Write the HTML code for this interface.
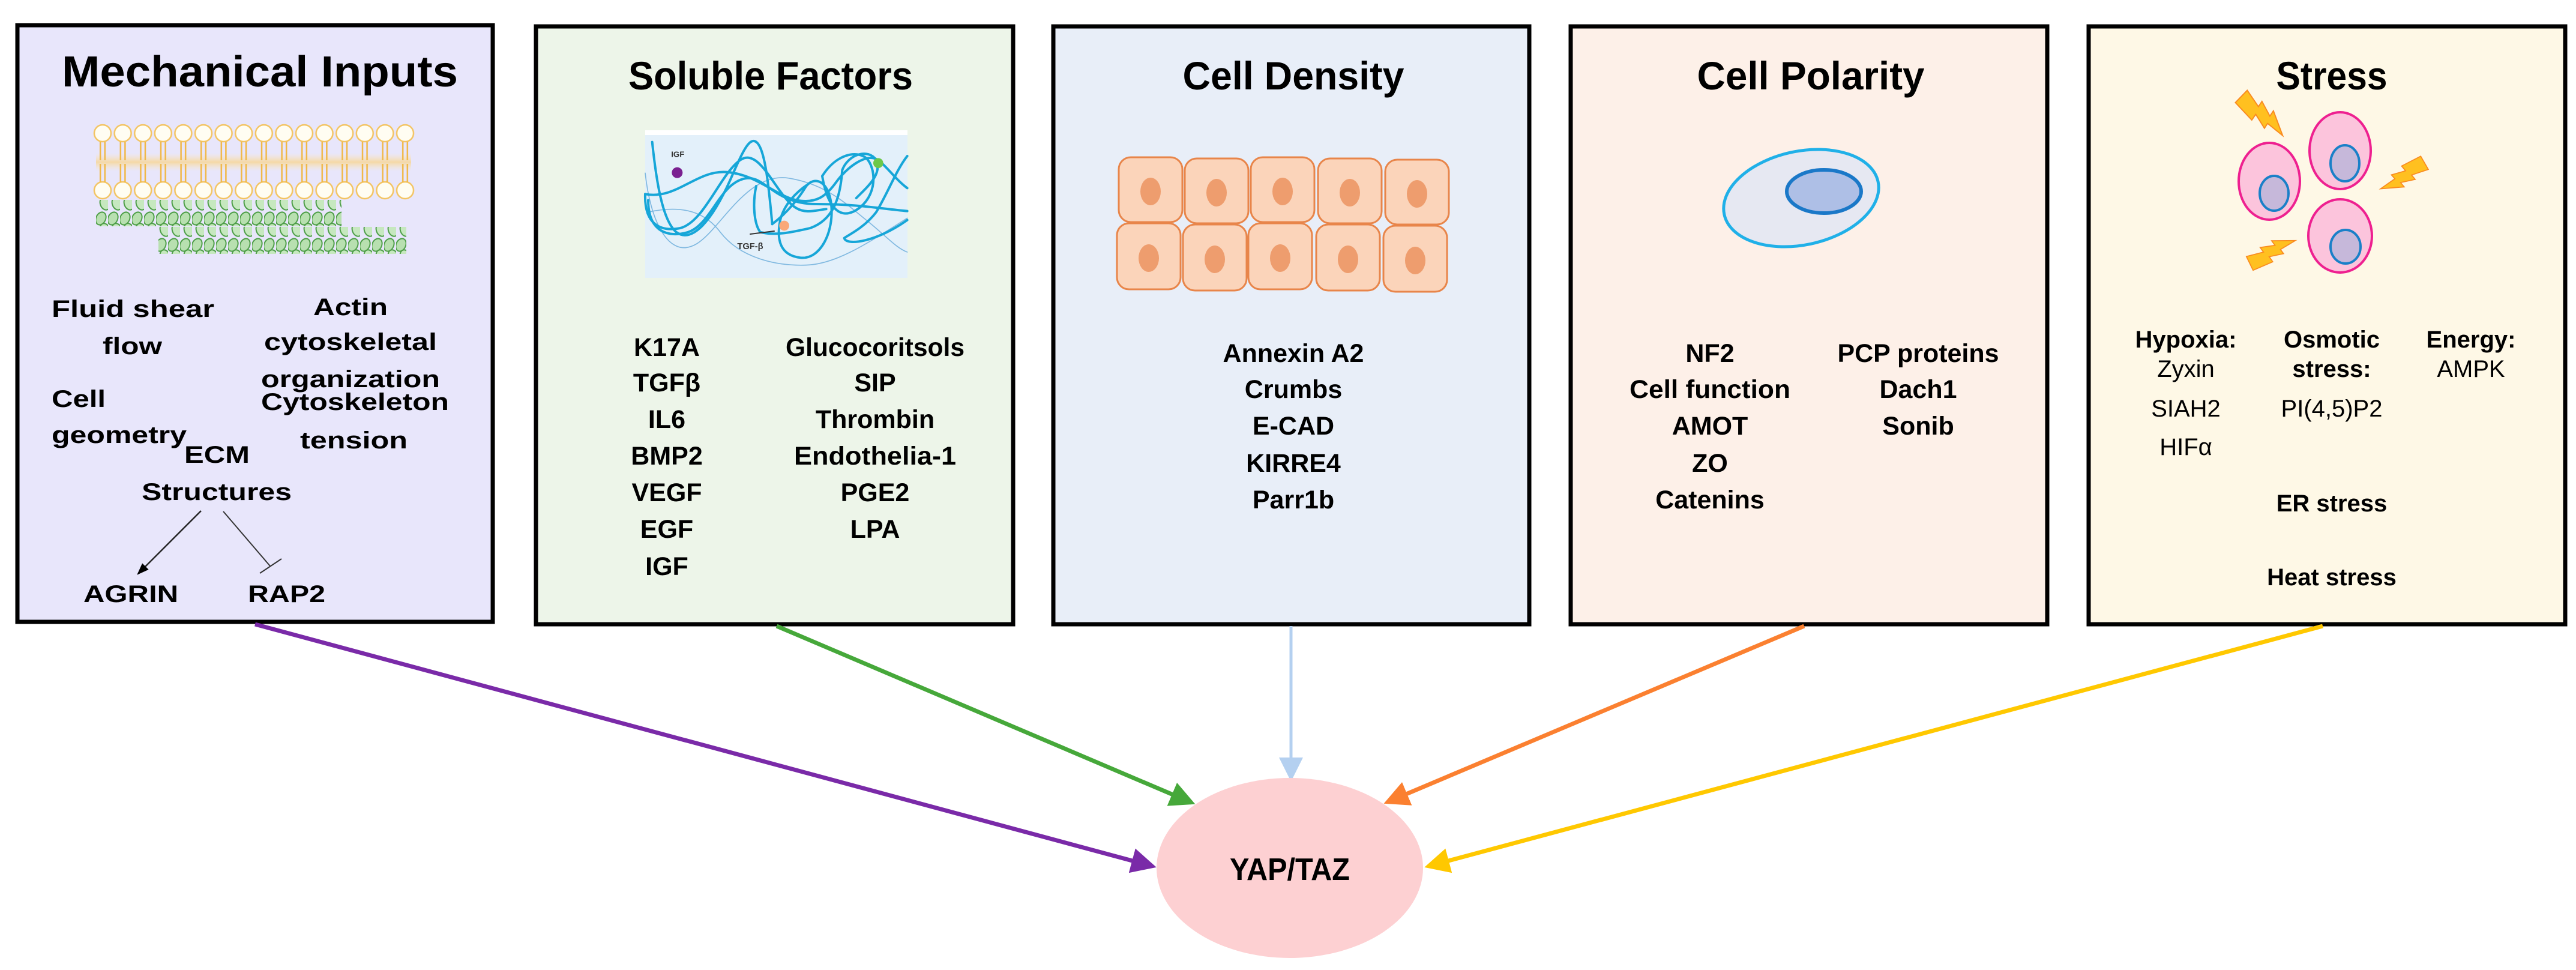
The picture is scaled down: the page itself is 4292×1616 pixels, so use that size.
<!DOCTYPE html>
<html><head><meta charset="utf-8"><style>
html,body{margin:0;padding:0;background:#fff;}
svg{display:block;}
text{font-family:"Liberation Sans",Arial,sans-serif;}
</style></head><body>
<svg width="4292" height="1616" viewBox="0 0 4292 1616" xmlns="http://www.w3.org/2000/svg">
<defs>
<pattern id="lip" patternUnits="userSpaceOnUse" x="154.2" y="205" width="33.6" height="130">
 <circle cx="16.8" cy="17" r="14" fill="#fffdf2" stroke="#f3c463" stroke-width="2.5"/>
 <circle cx="16.8" cy="112" r="14" fill="#fffdf2" stroke="#f3c463" stroke-width="2.5"/>
 <path d="M13 31 V62 M20.6 31 V62 M13 68 V98 M20.6 68 V98" stroke="#f0b848" stroke-width="2.5" fill="none"/>
</pattern>
<pattern id="act" patternUnits="userSpaceOnUse" x="0" y="0" width="20" height="44">
 <ellipse cx="8" cy="12" rx="8" ry="11" fill="#b8e0b0" stroke="#4e9e48" stroke-width="2" transform="rotate(25 8 12)"/>
 <ellipse cx="15" cy="31" rx="8" ry="11" fill="#c6e8bf" stroke="#4e9e48" stroke-width="2" transform="rotate(-20 15 31)"/>
</pattern>
<linearGradient id="band" x1="0" y1="0" x2="0" y2="1">
 <stop offset="0" stop-color="#fde8b8" stop-opacity="0"/>
 <stop offset="0.5" stop-color="#f8d590" stop-opacity="0.8"/>
 <stop offset="1" stop-color="#fde8b8" stop-opacity="0"/>
</linearGradient>
<polygon id="bolt" points="-16,0 14,0 7,34 18,32 9,60 20,58 0,100 -3,66 -13,68 -6,40 -18,42" fill="#ffc020" stroke="#f98a20" stroke-width="2"/>
<marker id="mp" markerWidth="6" markerHeight="6" refX="5" refY="3" orient="auto" markerUnits="strokeWidth"><path d="M0,0 L6,3 L0,6 z" fill="#7a2aa8"/></marker>
<marker id="mg" markerWidth="6" markerHeight="6" refX="5" refY="3" orient="auto" markerUnits="strokeWidth"><path d="M0,0 L6,3 L0,6 z" fill="#46a83a"/></marker>
<marker id="mb" markerWidth="8" markerHeight="8" refX="7" refY="4" orient="auto" markerUnits="strokeWidth"><path d="M0,0 L8,4 L0,8 z" fill="#b4d0f0"/></marker>
<marker id="mo" markerWidth="6" markerHeight="6" refX="5" refY="3" orient="auto" markerUnits="strokeWidth"><path d="M0,0 L6,3 L0,6 z" fill="#fb8030"/></marker>
<marker id="my" markerWidth="6" markerHeight="6" refX="5" refY="3" orient="auto" markerUnits="strokeWidth"><path d="M0,0 L6,3 L0,6 z" fill="#ffc800"/></marker>
<marker id="mk" markerWidth="8" markerHeight="8" refX="7" refY="4" orient="auto" markerUnits="strokeWidth"><path d="M0,1 L8,4 L0,7 z" fill="#000"/></marker>
</defs>

<!-- boxes -->
<g stroke="#000" stroke-width="7">
<rect x="29" y="42" width="792" height="994" fill="#e8e6fb"/>
<rect x="893" y="44" width="795" height="996" fill="#edf5e9"/>
<rect x="1755" y="44" width="793" height="996" fill="#e8eef8"/>
<rect x="2617" y="44" width="794" height="996" fill="#fdf0e8"/>
<rect x="3480" y="44" width="794" height="996" fill="#fef8e6"/>
</g>

<!-- titles -->
<g font-weight="bold" fill="#000" text-anchor="middle">
<text x="433" y="144" font-size="72" textLength="660" lengthAdjust="spacingAndGlyphs">Mechanical Inputs</text>
<text x="1284" y="149" font-size="66" textLength="474" lengthAdjust="spacingAndGlyphs">Soluble Factors</text>
<text x="2155" y="149" font-size="66" textLength="369" lengthAdjust="spacingAndGlyphs">Cell Density</text>
<text x="3017" y="149" font-size="66" textLength="379" lengthAdjust="spacingAndGlyphs">Cell Polarity</text>
<text x="3885" y="149" font-size="66" textLength="185" lengthAdjust="spacingAndGlyphs">Stress</text>
</g>

<!-- membrane -->
<rect x="160" y="255" width="525" height="30" fill="url(#band)"/>
<rect x="154" y="205" width="538" height="130" fill="url(#lip)"/>
<rect x="160" y="333" width="409" height="44" fill="url(#act)"/>
<rect x="264" y="378" width="413" height="45" fill="url(#act)"/>

<!-- mechanical text -->
<g font-weight="bold" font-size="40" fill="#000">
<text x="86" y="528" textLength="271" lengthAdjust="spacingAndGlyphs">Fluid shear</text>
<text x="171" y="590" textLength="99" lengthAdjust="spacingAndGlyphs">flow</text>
<text x="522" y="525" textLength="124" lengthAdjust="spacingAndGlyphs">Actin</text>
<text x="440" y="583" textLength="288" lengthAdjust="spacingAndGlyphs">cytoskeletal</text>
<text x="435" y="645" textLength="298" lengthAdjust="spacingAndGlyphs">organization</text>
<text x="435" y="683" textLength="313" lengthAdjust="spacingAndGlyphs">Cytoskeleton</text>
<text x="500" y="747" textLength="179" lengthAdjust="spacingAndGlyphs">tension</text>
<text x="86" y="678" textLength="90" lengthAdjust="spacingAndGlyphs">Cell</text>
<text x="86" y="738" textLength="225" lengthAdjust="spacingAndGlyphs">geometry</text>
<text x="307" y="771" textLength="109" lengthAdjust="spacingAndGlyphs">ECM</text>
<text x="236" y="833" textLength="250" lengthAdjust="spacingAndGlyphs">Structures</text>
<text x="139" y="1003" textLength="158" lengthAdjust="spacingAndGlyphs">AGRIN</text>
<text x="413" y="1003" textLength="129" lengthAdjust="spacingAndGlyphs">RAP2</text>
</g>
<line x1="335" y1="851" x2="230" y2="956" stroke="#222" stroke-width="2.5" marker-end="url(#mk)"/>
<line x1="372" y1="852" x2="450" y2="943" stroke="#333" stroke-width="2"/>
<line x1="433" y1="955" x2="469" y2="931" stroke="#333" stroke-width="2"/>

<!-- soluble image -->
<rect x="1075" y="217" width="437" height="246" fill="#e3f0fa"/>
<rect x="1075" y="217" width="437" height="8" fill="#ffffff"/>
<g transform="translate(1060,200) scale(0.3333)" fill="none" stroke-linecap="round">
 <g stroke="#7fb8e0" stroke-width="5">
  <path d="M45 265 C70 500 160 700 300 620 C420 550 550 260 760 290 C950 320 1050 420 1150 500 C1250 580 1300 640 1355 660"/>
  <path d="M60 460 C200 430 330 440 420 560 C520 690 700 730 850 725 C1000 720 1150 620 1355 490"/>
 </g>
 <g stroke="#16a6d8" stroke-width="12">
  <path d="M80 110 C100 300 130 500 200 560 C280 620 380 500 470 300 C530 160 560 100 590 105 C640 115 660 300 680 520"/>
  <path d="M45 370 C200 400 300 250 450 260 C600 270 700 380 800 400 C900 420 950 380 1000 310 C1050 240 1150 160 1210 200 C1260 240 1300 300 1355 340"/>
  <path d="M45 370 C40 520 120 560 220 540 C340 510 420 270 520 200 C620 130 700 380 800 440 C850 470 900 450 950 445"/>
  <path d="M60 400 C60 560 160 590 260 560 C380 520 420 300 560 290 C650 290 700 420 900 420 C1100 420 1200 440 1355 455"/>
  <path d="M680 520 C760 460 820 380 850 330 C890 280 960 300 975 420 C990 560 920 700 820 688 C720 676 700 600 720 500 C740 420 800 360 860 320"/>
  <path d="M600 330 C580 420 590 520 620 560 C700 580 780 560 870 540 C980 500 1020 400 1030 250 C1060 170 1160 140 1200 200 C1230 270 1160 330 1100 390"/>
  <path d="M1355 180 C1300 250 1260 360 1200 460 C1140 540 1050 580 1040 590 C1050 630 1200 610 1355 500"/>
  <path d="M930 280 C1000 170 1100 150 1150 190 C1200 240 1210 380 1100 450 C1000 510 950 400 930 280"/>
 </g>
 <circle cx="205" cy="263" r="27" fill="#7a2090"/>
 <circle cx="740" cy="528" r="25" fill="#f9a878"/>
 <circle cx="1210" cy="215" r="25" fill="#6cc84a"/>
 <line x1="570" y1="570" x2="690" y2="555" stroke="#333" stroke-width="6"/>
 <text x="208" y="185" font-size="40" font-weight="bold" fill="#333" stroke="none" text-anchor="middle">IGF</text>
 <text x="570" y="645" font-size="44" font-weight="bold" fill="#333" stroke="none" text-anchor="middle">TGF-β</text>
</g>

<!-- soluble lists -->
<g font-weight="bold" font-size="43" fill="#000" text-anchor="middle">
<text x="1111" y="593">K17A</text><text x="1111" y="652">TGFβ</text><text x="1111" y="713">IL6</text>
<text x="1111" y="774">BMP2</text><text x="1111" y="835">VEGF</text><text x="1111" y="896">EGF</text><text x="1111" y="958">IGF</text>
<text x="1458" y="593" textLength="298" lengthAdjust="spacingAndGlyphs">Glucocoritsols</text><text x="1458" y="652">SIP</text><text x="1458" y="713">Thrombin</text>
<text x="1458" y="774" textLength="270" lengthAdjust="spacingAndGlyphs">Endothelia-1</text><text x="1458" y="835">PGE2</text><text x="1458" y="896">LPA</text>
</g>

<!-- cell density grid -->
<g stroke="#e8854a" stroke-width="3" fill="#fbd4ba">
<rect x="1864" y="262" width="106" height="108" rx="20"/><rect x="1974" y="264" width="106" height="108" rx="20"/><rect x="2084" y="262" width="106" height="108" rx="20"/><rect x="2196" y="264" width="106" height="108" rx="20"/><rect x="2308" y="266" width="106" height="108" rx="20"/>
<rect x="1861" y="372" width="106" height="110" rx="20"/><rect x="1971" y="374" width="106" height="110" rx="20"/><rect x="2080" y="372" width="106" height="110" rx="20"/><rect x="2193" y="374" width="106" height="110" rx="20"/><rect x="2305" y="376" width="106" height="110" rx="20"/>
</g>
<g fill="#ee9d6e">
<ellipse cx="1917" cy="319" rx="17" ry="23"/><ellipse cx="2027" cy="321" rx="17" ry="23"/><ellipse cx="2137" cy="319" rx="17" ry="23"/><ellipse cx="2249" cy="321" rx="17" ry="23"/><ellipse cx="2361" cy="323" rx="17" ry="23"/>
<ellipse cx="1914" cy="430" rx="17" ry="23"/><ellipse cx="2024" cy="432" rx="17" ry="23"/><ellipse cx="2133" cy="430" rx="17" ry="23"/><ellipse cx="2246" cy="432" rx="17" ry="23"/><ellipse cx="2358" cy="434" rx="17" ry="23"/>
</g>
<g font-weight="bold" font-size="43" fill="#000" text-anchor="middle">
<text x="2155" y="603">Annexin A2</text><text x="2155" y="663">Crumbs</text><text x="2155" y="724">E-CAD</text><text x="2155" y="786">KIRRE4</text><text x="2155" y="847">Parr1b</text>
</g>

<!-- polarity -->
<ellipse cx="3001" cy="330" rx="131" ry="78" fill="#e6e8f2" stroke="#20b0e8" stroke-width="5" transform="rotate(-12 3001 330)"/>
<ellipse cx="3039" cy="319" rx="62" ry="36" fill="#aebfe6" stroke="#1a78c8" stroke-width="6"/>
<g font-weight="bold" font-size="43" fill="#000" text-anchor="middle">
<text x="2849" y="603">NF2</text><text x="2849" y="663" textLength="268" lengthAdjust="spacingAndGlyphs">Cell function</text><text x="2849" y="724">AMOT</text><text x="2849" y="786">ZO</text><text x="2849" y="847">Catenins</text>
<text x="3196" y="603" textLength="269" lengthAdjust="spacingAndGlyphs">PCP proteins</text><text x="3196" y="663">Dach1</text><text x="3196" y="724">Sonib</text>
</g>

<!-- stress cells -->
<g fill="#fcc4dc" stroke="#ee2090" stroke-width="4">
<ellipse cx="3781" cy="302" rx="51" ry="64"/>
<ellipse cx="3899" cy="251" rx="51" ry="64"/>
<ellipse cx="3899" cy="393" rx="53" ry="61"/>
</g>
<g fill="#c6b8da" stroke="#1a80c8" stroke-width="4">
<ellipse cx="3789" cy="322" rx="24" ry="29"/>
<ellipse cx="3907" cy="272" rx="24" ry="30"/>
<ellipse cx="3908" cy="411" rx="25" ry="28"/>
</g>
<use href="#bolt" transform="translate(3735,160) rotate(-46) scale(0.95)"/>
<use href="#bolt" transform="translate(4040,272) rotate(60) scale(0.85)"/>
<use href="#bolt" transform="translate(3748,438) rotate(-116) scale(0.85)"/>
<g font-size="40" fill="#000" text-anchor="middle">
<text x="3642" y="579" font-weight="bold">Hypoxia:</text>
<text x="3642" y="628">Zyxin</text><text x="3642" y="694">SIAH2</text><text x="3642" y="758">HIFα</text>
<text x="3885" y="579" font-weight="bold">Osmotic</text><text x="3885" y="628" font-weight="bold">stress:</text>
<text x="3885" y="694">PI(4,5)P2</text>
<text x="4117" y="579" font-weight="bold">Energy:</text><text x="4117" y="628">AMPK</text>
<text x="3885" y="852" font-weight="bold">ER stress</text>
<text x="3885" y="975" font-weight="bold">Heat stress</text>
</g>

<!-- connectors -->
<line x1="425" y1="1040" x2="1920" y2="1443" stroke="#7a2aa8" stroke-width="7" marker-end="url(#mp)"/>
<line x1="1294" y1="1043" x2="1985" y2="1337" stroke="#46a83a" stroke-width="7" marker-end="url(#mg)"/>
<line x1="2151" y1="1043" x2="2151" y2="1297" stroke="#b4d0f0" stroke-width="5" marker-end="url(#mb)"/>
<line x1="3006" y1="1043" x2="2312" y2="1336" stroke="#fb8030" stroke-width="7" marker-end="url(#mo)"/>
<line x1="3870" y1="1043" x2="2380" y2="1443" stroke="#ffc800" stroke-width="7" marker-end="url(#my)"/>

<ellipse cx="2149" cy="1446" rx="222" ry="150" fill="#fdd0d2"/>
<text x="2149" y="1466" font-size="52" font-weight="bold" text-anchor="middle" textLength="200" lengthAdjust="spacingAndGlyphs">YAP/TAZ</text>
</svg>
</body></html>
